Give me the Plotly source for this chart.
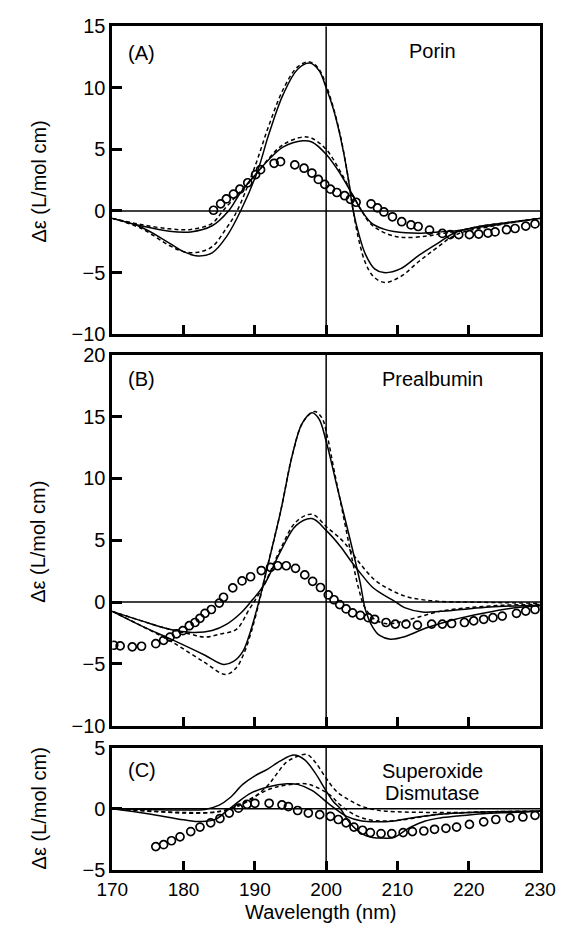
import plotly.graph_objects as go

W, H = 573, 935
FONT = "Liberation Sans, Arial, Helvetica, sans-serif"

# ---------------- Panel A : Porin ----------------
a_solid1_x = [170, 174, 178, 180, 182, 184, 186, 188, 190.3, 192, 194, 196, 197.7, 199, 200, 201, 202, 203, 203.8, 204.6, 205.5, 206.8, 208.1, 210.4, 213, 215.7, 218.3, 223.6, 230]
a_solid1_y = [-0.6, -1.3, -2.6, -3.3, -3.65, -3.4, -2.1, 0.0, 3.1, 6.3, 9.5, 11.5, 12.0, 11.4, 10.0, 8.3, 6.0, 3.0, 0.0, -1.9, -3.5, -4.7, -5.0, -4.7, -3.6, -2.6, -1.7, -1.15, -0.6]
a_dash1_x = [170, 174, 178, 180, 182, 184, 186, 187.5, 190, 192, 194, 196, 197.7, 199, 200, 201, 202, 203, 203.8, 204.6, 205.5, 206.6, 208.2, 210.5, 213, 215.5, 218.3, 223.6, 230]
a_dash1_y = [-0.6, -1.4, -2.8, -3.3, -3.35, -2.9, -1.4, 0.0, 3.6, 7.0, 9.9, 11.7, 12.1, 11.5, 10.2, 8.4, 6.1, 3.0, 0.0, -2.4, -4.2, -5.3, -5.8, -5.3, -4.1, -3.0, -1.9, -1.2, -0.6]
a_solid2_x = [170, 174, 178, 181, 184, 186.3, 188, 190.3, 192, 194, 196.7, 198, 200, 202, 204, 205, 206.4, 208, 209.5, 213, 215.7, 218.3, 222, 226, 230]
a_solid2_y = [-0.6, -1.2, -1.65, -1.7, -1.2, 0.0, 1.5, 3.1, 4.2, 5.2, 5.7, 5.6, 4.6, 3.0, 1.0, 0.0, -1.0, -1.45, -1.66, -1.8, -1.7, -1.6, -1.2, -0.9, -0.6]
a_dash2_x = [170, 174, 178, 181, 184, 185.5, 188, 190.3, 192, 194, 196.7, 198, 200, 202, 204, 205, 206, 207.3, 209, 210.8, 213.9, 216, 218.3, 222, 226, 230]
a_dash2_y = [-0.6, -1.1, -1.45, -1.5, -1.0, 0.0, 1.6, 3.1, 4.3, 5.4, 6.0, 5.9, 5.0, 3.2, 1.0, 0.0, -0.9, -1.5, -1.95, -2.15, -2.05, -1.85, -1.65, -1.2, -0.9, -0.6]
a_circ_x = [184.2, 185.2, 186.0, 187.0, 187.9, 189.0, 190.1, 190.8, 192.7, 193.6, 195.6, 196.9, 198.0, 198.9, 199.8, 200.6, 201.5, 202.6, 203.4, 204.2, 206.3, 207.2, 208.1, 209.3, 210.6, 211.9, 212.9, 214.5, 216.3, 217.4, 218.6, 220.1, 221.4, 222.7, 223.7, 225.3, 226.5, 228.0, 229.3]
a_circ_y = [0.06, 0.58, 0.98, 1.37, 1.77, 2.29, 2.95, 3.35, 3.87, 4.0, 3.74, 3.47, 3.08, 2.56, 2.16, 1.77, 1.5, 1.24, 0.95, 0.71, 0.58, 0.25, -0.08, -0.47, -0.87, -1.13, -1.26, -1.55, -1.82, -1.92, -1.92, -1.92, -1.87, -1.79, -1.7, -1.52, -1.42, -1.23, -1.05]

# ---------------- Panel B : Prealbumin ----------------
b_solid1_x = [170, 174, 178.6, 183, 185.6, 187, 188.3, 189.2, 190.5, 191.4, 193.6, 195.3, 196.6, 198, 199, 200, 201.5, 203.3, 204.8, 205.5, 206.5, 207.5, 209, 211, 214, 218, 222, 226, 230]
b_solid1_y = [-0.75, -1.9, -3.1, -4.3, -5.05, -4.8, -4.0, -2.7, -0.1, 2.0, 7.3, 12.0, 14.4, 15.3, 14.8, 13.0, 9.4, 5.2, 1.5, -0.6, -2.0, -2.7, -3.0, -2.8, -2.1, -1.4, -0.9, -0.5, -0.3]
b_dash1_x = [170, 174, 178.6, 183, 185.9, 187.4, 188.5, 189.5, 190.6, 191.4, 193.6, 195.3, 196.8, 198.4, 199.4, 200.2, 201.1, 202.4, 203.7, 204.6, 205.4, 206.8, 208.5, 210.5, 213, 216, 220, 225, 230]
b_dash1_y = [-0.75, -1.9, -3.3, -4.9, -5.85, -5.3, -4.1, -2.4, 0.0, 2.0, 7.3, 12.0, 14.6, 15.4, 14.9, 13.3, 10.7, 7.0, 3.3, 1.0, -0.4, -1.4, -1.75, -1.6, -1.2, -0.75, -0.45, -0.25, -0.2]
b_solid2_x = [170, 174, 178, 181.2, 184, 186, 188, 189.4, 191.4, 193.6, 195.8, 198, 200, 202, 203.5, 205, 206.5, 208, 209.5, 211, 213.5, 216, 219, 223, 230]
b_solid2_y = [-0.75, -1.5, -2.2, -2.45, -2.3, -1.8, -0.9, 0.0, 1.5, 4.1, 6.2, 6.75, 5.8, 4.5, 3.3, 2.2, 1.2, 0.6, 0.1, -0.45, -0.8, -0.75, -0.6, -0.4, -0.25]
b_dash2_x = [170, 174, 178, 181, 183, 185, 187.4, 189.2, 190.3, 191.4, 193.6, 195.8, 198, 200.2, 202.4, 204.5, 206.8, 209, 211.2, 213.4, 216, 220, 225, 230]
b_dash2_y = [-0.75, -1.5, -2.2, -2.6, -2.83, -2.6, -2.2, -0.6, 0.4, 1.5, 4.3, 6.5, 7.1, 6.0, 4.9, 3.3, 1.8, 1.0, 0.45, 0.2, 0.05, 0.0, -0.05, -0.1]
b_circ_x = [170.2, 171.1, 172.8, 174.1, 176.1, 177.2, 178.1, 179.0, 179.9, 180.8, 181.6, 182.3, 183.0, 183.9, 185.0, 185.6, 186.9, 188.2, 189.4, 190.9, 192.2, 193.2, 194.4, 195.7, 197.0, 198.1, 199.2, 200.3, 201.1, 201.9, 202.8, 203.7, 204.8, 205.9, 206.8, 208.4, 209.7, 211.2, 212.8, 214.8, 216.3, 217.6, 219.4, 220.7, 222.1, 223.4, 224.7, 226.7, 228.0, 229.3]
b_circ_y = [-3.49, -3.54, -3.62, -3.57, -3.36, -3.09, -2.83, -2.57, -2.31, -1.91, -1.65, -1.31, -0.91, -0.6, -0.08, 0.39, 1.15, 1.71, 2.05, 2.55, 2.81, 2.94, 2.94, 2.73, 2.2, 1.68, 1.18, 0.58, 0.19, -0.2, -0.55, -0.87, -1.07, -1.26, -1.39, -1.65, -1.78, -1.78, -1.86, -1.78, -1.78, -1.73, -1.65, -1.52, -1.39, -1.26, -1.13, -0.91, -0.73, -0.6]

# ---------------- Panel C : Superoxide Dismutase ----------------
c_solid1_x = [170, 175, 180, 183, 185, 186.5, 188.3, 190, 191.8, 193.5, 195.5, 197, 198.5, 199.8, 201, 202, 203.3, 205.1, 206.5, 208, 209.5, 211.7, 213.9, 216, 218.3, 222, 226, 230]
c_solid1_y = [0.0, -0.05, -0.1, -0.05, 0.3, 0.9, 2.0, 2.7, 3.25, 3.9, 4.4, 4.0, 2.9, 1.65, 0.6, 0.0, -1.15, -2.08, -2.35, -2.4, -2.35, -1.55, -1.0, -0.75, -0.6, -0.4, -0.3, -0.2]
c_dash1_x = [170, 175, 180, 184, 186, 188, 190, 191.8, 193, 194.4, 196, 197.3, 198.5, 200, 201.5, 203.3, 205, 207, 210, 215, 220, 225, 230]
c_dash1_y = [0.0, -0.2, -0.3, -0.3, -0.1, 0.3, 1.0, 1.9, 2.8, 3.8, 4.3, 4.45, 3.8, 2.5, 1.4, 0.7, 0.2, -0.1, -0.25, -0.3, -0.3, -0.25, -0.2]
c_solid2_x = [170, 175, 180, 182.5, 184.5, 186, 187.4, 189.5, 191.8, 194.5, 196, 198, 200.6, 202.8, 205, 207, 209.5, 211.5, 213.9, 216, 220, 225, 230]
c_solid2_y = [0.0, -0.4, -0.9, -1.05, -0.85, -0.2, 0.45, 1.3, 1.78, 2.05, 2.0, 1.5, 0.3, -0.6, -1.0, -1.07, -1.0, -0.8, -0.6, -0.45, -0.3, -0.22, -0.2]
c_dash2_x = [170, 176, 180, 184, 186, 188, 190, 192, 194, 197.1, 198.5, 200.6, 202, 204, 206, 208, 210, 212, 215, 220, 225, 230]
c_dash2_y = [0.0, -0.2, -0.35, -0.3, -0.1, 0.4, 1.0, 1.6, 1.9, 2.05, 1.8, 1.1, 0.3, -0.5, -0.9, -1.0, -0.95, -0.8, -0.5, -0.3, -0.22, -0.2]
c_circ_x = [176.1, 177.2, 178.3, 179.5, 181.0, 182.3, 183.8, 185.1, 186.4, 187.7, 188.9, 190.0, 192.0, 193.8, 194.7, 196.0, 197.5, 199.1, 200.6, 201.7, 202.8, 203.9, 205.1, 206.2, 207.7, 209.2, 210.8, 212.1, 213.7, 215.2, 216.8, 218.3, 220.1, 222.1, 223.8, 225.8, 227.6, 229.3]
c_circ_y = [-3.1, -2.94, -2.62, -2.3, -1.87, -1.5, -1.15, -0.8, -0.35, 0.05, 0.37, 0.45, 0.45, 0.32, 0.18, -0.14, -0.35, -0.48, -0.62, -0.88, -1.15, -1.5, -1.76, -1.95, -2.03, -2.03, -1.95, -1.87, -1.82, -1.68, -1.6, -1.5, -1.28, -1.07, -0.88, -0.75, -0.67, -0.54]

# ---------------- Axis settings / texts ----------------
x_range = [170, 230]
x_ticks = [170, 180, 190, 200, 210, 220, 230]
a_range, a_ticks = [-10, 15], [-10, -5, 0, 5, 10, 15]
b_range, b_ticks = [-10, 20], [-10, -5, 0, 5, 10, 15, 20]
c_range, c_ticks = [-5, 5], [-5, 0, 5]
y_title = "Δε (L/mol cm)"
x_title = "Wavelength (nm)"
panel_labels = ["(A)", "(B)", "(C)"]
panel_names = [["Porin"], ["Prealbumin"], ["Superoxide", "Dismutase"]]


def px(x):
    return x / W


def py(y):
    return 1 - y / H


fig = go.Figure()

panels = [
    ("x", "y", [(a_solid1_x, a_solid1_y, "solid"), (a_dash1_x, a_dash1_y, "dash"),
                (a_solid2_x, a_solid2_y, "solid"), (a_dash2_x, a_dash2_y, "dash")], (a_circ_x, a_circ_y)),
    ("x2", "y2", [(b_solid1_x, b_solid1_y, "solid"), (b_dash1_x, b_dash1_y, "dash"),
                  (b_solid2_x, b_solid2_y, "solid"), (b_dash2_x, b_dash2_y, "dash")], (b_circ_x, b_circ_y)),
    ("x3", "y3", [(c_solid1_x, c_solid1_y, "solid"), (c_dash1_x, c_dash1_y, "dash"),
                  (c_solid2_x, c_solid2_y, "solid"), (c_dash2_x, c_dash2_y, "dash")], (c_circ_x, c_circ_y)),
]

for xa, ya, curves, circ in panels:
    for cx, cy, dash in curves:
        fig.add_trace(go.Scatter(
            x=cx, y=cy, mode="lines", xaxis=xa, yaxis=ya,
            line=dict(color="black", width=1.5, shape="spline", smoothing=1.0,
                      dash="solid" if dash == "solid" else "4px,3px"),
            showlegend=False, hoverinfo="skip"))
    fig.add_trace(go.Scatter(
        x=circ[0], y=circ[1], mode="markers", xaxis=xa, yaxis=ya,
        marker=dict(symbol="circle-open", size=8, color="black", line=dict(width=1.7)),
        showlegend=False, hoverinfo="skip"))

x_dom = [px(102), px(555)]
y_doms = [[py(331), py(15.5)], [py(732), py(352)], [py(879.5), py(754.5)]]
y_ranges = [(a_range, a_ticks), (b_range, b_ticks), (c_range, c_ticks)]

common_x = dict(range=x_range, domain=x_dom, showline=True, mirror=True, linewidth=2.8,
                linecolor="black", ticks="inside", tickvals=x_ticks, ticklen=9, tickwidth=2.5,
                tickcolor="black", showgrid=False, zeroline=False, ticklabelstandoff=0,
                tickfont=dict(family=FONT, size=19, color="black"))
common_y = dict(showline=True, mirror=True, linewidth=2.8, linecolor="black", ticks="inside",
                ticklen=10, tickwidth=2.5, tickcolor="black", showgrid=False, zeroline=False,
                tickfont=dict(family=FONT, size=20, color="black"))

layout = dict(width=W, height=H, margin=dict(l=0, r=0, t=0, b=0),
              paper_bgcolor="white", plot_bgcolor="white", showlegend=False)
for i in range(3):
    sx = "" if i == 0 else str(i + 1)
    layout["xaxis" + sx] = dict(common_x, anchor="y" + sx, showticklabels=(i == 2))
    layout["yaxis" + sx] = dict(common_y, anchor="x" + sx, domain=y_doms[i],
                               range=y_ranges[i][0], tickvals=y_ranges[i][1])
fig.update_layout(**layout)

shapes = []
annotations = []
title_centers = [175, 544, 817]
label_y = [43, 377, 777]
name_y = [[41], [377], [778, 800.5]]
for i in range(3):
    sx = "" if i == 0 else str(i + 1)
    rng = y_ranges[i][0]
    shapes.append(dict(type="line", xref="x" + sx, yref="y" + sx, x0=x_range[0], x1=x_range[1],
                       y0=0, y1=0, line=dict(color="black", width=1.5), layer="below"))
    shapes.append(dict(type="line", xref="x" + sx, yref="y" + sx, x0=200, x1=200,
                       y0=rng[0], y1=rng[1], line=dict(color="black", width=1.5), layer="below"))
    annotations.append(dict(text=y_title, x=px(24), y=py(title_centers[i]), xref="paper", yref="paper",
                            textangle=-90, showarrow=False, xanchor="center", yanchor="middle",
                            font=dict(family=FONT, size=20, color="black")))
    annotations.append(dict(text=panel_labels[i], x=px(133), y=py(label_y[i]),
                            xref="paper", yref="paper", showarrow=False, xanchor="center",
                            yanchor="middle", font=dict(family=FONT, size=20, color="black")))
    for txt, yy in zip(panel_names[i], name_y[i]):
        annotations.append(dict(text=txt, x=px(441), y=py(yy), xref="paper", yref="paper",
                                showarrow=False, xanchor="center", yanchor="middle",
                                font=dict(family=FONT, size=20, color="black")))
annotations.append(dict(text=x_title, x=px(323), y=0.0, xref="paper", yref="paper",
                        showarrow=False, xanchor="center", yanchor="bottom", borderpad=0,
                        font=dict(family=FONT, size=20, color="black")))
fig.update_layout(shapes=shapes, annotations=annotations)

fig.write_html("out.html")
